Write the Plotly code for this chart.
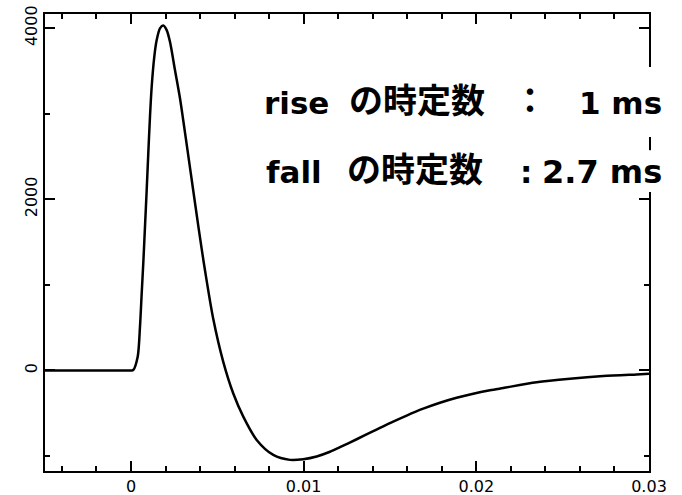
import plotly.graph_objects as go

# time (s) and signal values
time_s = [-0.005, -0.001, 0, 0.00013, 0.000388, 0.000521, 0.00062, 0.000712, 0.000811,
          0.000909, 0.001002, 0.0011, 0.001199, 0.001349, 0.001488, 0.001679, 0.00187,
          0.002067, 0.002258, 0.002547, 0.002837, 0.003028, 0.003318, 0.003607, 0.003897,
          0.004094, 0.004285, 0.004766, 0.005344, 0.005924, 0.006503, 0.007279, 0.00824,
          0.009207, 0.009977, 0.010753, 0.011523, 0.012102, 0.013069, 0.01403, 0.014997,
          0.015964, 0.016925, 0.017892, 0.018859, 0.019821, 0.020788, 0.021558, 0.023492,
          0.02542, 0.027348, 0.029282, 0.03]
signal = [0, 0, 0, 5, 161, 512, 902, 1252, 1680,
          2108, 2537, 2964, 3315, 3665, 3860, 3997, 4030,
          3977, 3840, 3510, 3180, 2920, 2510, 2100, 1690,
          1420, 1170, 600, 100, -270, -540, -812, -987,
          -1045, -1037, -1005, -950, -897, -804, -710, -615,
          -527, -447, -378, -320, -272, -232, -205, -138,
          -97, -66, -46, -39]

x_ticks = [0, 0.01, 0.02, 0.03]
x_tick_labels = ["0", "0.01", "0.02", "0.03"]
y_ticks = [0, 2000, 4000]
y_tick_labels = ["0", "2000", "4000"]

rise_label = "rise"
fall_label = "fall"
jp_label = "の時定数"
rise_colon = "："
fall_colon = ":"
rise_value = "1 ms"
fall_value = "2.7 ms"

fig = go.Figure()
fig.add_trace(go.Scatter(x=time_s, y=signal, mode="lines",
                         line=dict(color="black", width=2.5, shape="spline", smoothing=0.8),
                         showlegend=False, hoverinfo="skip"))

tick_font = dict(family="DejaVu Sans, Liberation Sans, sans-serif", size=16, color="black")
axis_common = dict(showline=True, linecolor="black", linewidth=2, mirror="ticks",
                   ticks="inside", ticklen=10, tickwidth=2, tickcolor="black",
                   showgrid=False, zeroline=False, tickfont=tick_font, automargin=False)

fig.update_xaxes(range=[-0.00498, 0.03], tickmode="array", tickvals=x_ticks,
                 ticktext=x_tick_labels,
                 minor=dict(dtick=0.002, ticks="inside", ticklen=5, tickwidth=2,
                            tickcolor="black", showgrid=False),
                 **axis_common)
fig.update_yaxes(range=[-1175, 4165], tickmode="array", tickvals=y_ticks,
                 ticktext=y_tick_labels, tickangle=-90,
                 minor=dict(dtick=1000, ticks="inside", ticklen=5, tickwidth=2,
                            tickcolor="black", showgrid=False),
                 **axis_common)

lat = dict(family="DejaVu Sans, Noto Sans CJK JP, sans-serif", size=31, color="black", weight="bold")
lat2 = dict(family="DejaVu Sans, Noto Sans CJK JP, sans-serif", size=32, color="black", weight="bold")
jp = dict(family="Noto Sans CJK JP, sans-serif", size=34, color="black", weight="bold")

ann = []
def add(text, x, y, font, xanchor="center"):
    ann.append(dict(text=text, x=x, y=y, xref="paper", yref="paper", xanchor=xanchor,
                    yanchor="middle", showarrow=False, font=font, borderpad=0))

# line 1
add(rise_label, 0.4156, 0.805, lat)
add(jp_label, 0.6167, 0.815, jp)
add(rise_colon, 0.803, 0.815, jp)
add(rise_value, 1.0235, 0.805, lat, xanchor="right")
# line 2
add(fall_label, 0.412, 0.655, lat)
add(jp_label, 0.6134, 0.665, jp)
add(fall_colon, 0.796, 0.655, lat)
add(fall_value, 1.0235, 0.655, lat2, xanchor="right")

# white patches where the text crosses the right frame
shapes = [
    dict(type="rect", xref="paper", yref="paper", x0=0.99, x1=1.01, y0=0.731, y1=0.884,
         fillcolor="white", line=dict(width=0), layer="above"),
    dict(type="rect", xref="paper", yref="paper", x0=0.99, x1=1.01, y0=0.6105, y1=0.702,
         fillcolor="white", line=dict(width=0), layer="above"),
]

fig.update_layout(width=682, height=495, margin=dict(l=45, r=33, t=14, b=24),
                  paper_bgcolor="white", plot_bgcolor="white", annotations=ann,
                  shapes=shapes)

fig.write_html("out.html")
